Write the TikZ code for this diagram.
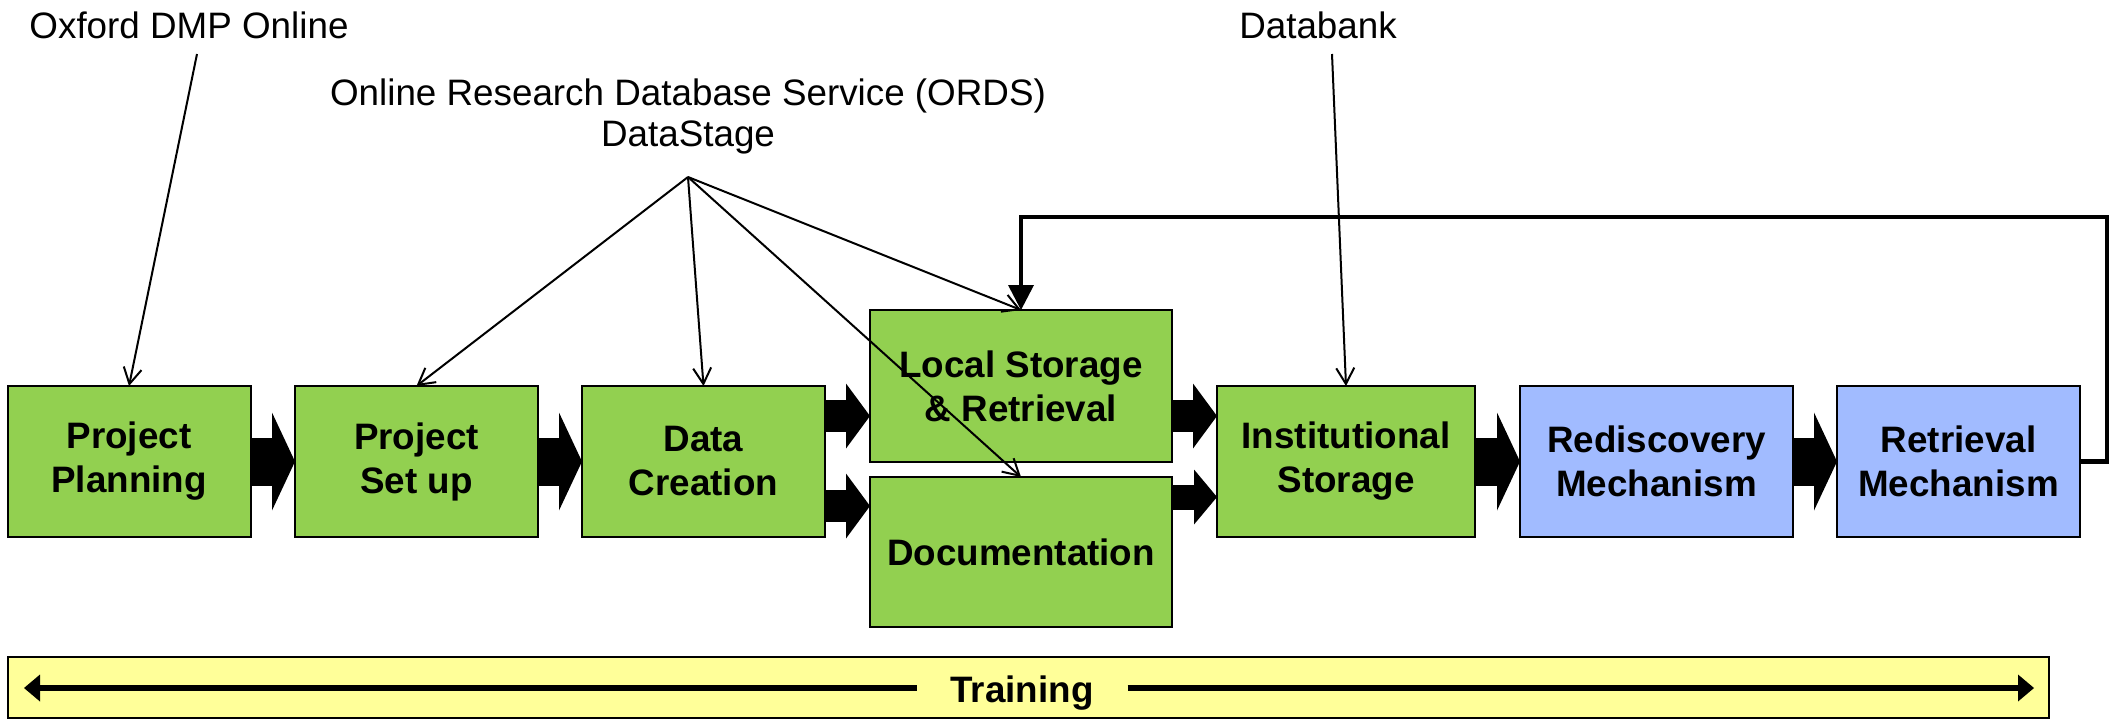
\documentclass[tikz,border=0pt]{standalone}
\usepackage{fontspec}
\setmainfont{Liberation Sans}
\newcommand*{\stagefont}{\bfseries\fontsize{18.4}{22}\selectfont}
\newcommand*{\toolfont}{\fontsize{18.4}{20.5}\selectfont}
\usepackage{tikz}
\definecolor{G}{HTML}{92D050}
\definecolor{B}{HTML}{A1BBFF}
\definecolor{Y}{HTML}{FFFF99}
\usetikzlibrary{arrows.meta}
\tikzstyle{chart}=[x=0.5pt, y=-0.5pt, inner sep=0pt, outer sep=0pt]
\tikzstyle{stage}=[draw=black, line width=1pt, minimum width=121.5pt, minimum height=75.5pt, align=center, font=\stagefont]
\tikzstyle{bigflow}=[line width=24pt, -{Triangle[length=11.5pt, width=49pt, line width=0pt]}]
\tikzstyle{smallflow}=[line width=16pt, -{Triangle[length=12pt, width=32.5pt, line width=0pt]}]
\tikzstyle{thinflow}=[line width=12.5pt, -{Triangle[length=11.5pt, width=27.5pt, line width=0pt]}]
\tikzstyle{loopback}=[line width=2.2pt, -{Triangle[length=12.5pt, width=13pt, line width=0pt]}]
\tikzstyle{tool}=[font=\toolfont, align=center]
\tikzstyle{pointer}=[line width=1pt, -{Straight Barb[length=8pt, width=9pt]}]
\tikzstyle{trainarrow}=[line width=3.3pt, -{Triangle[length=8pt, width=13.5pt, line width=0pt]}]

\begin{document}
\begin{tikzpicture}[chart]
    \path [use as bounding box] (0,0) rectangle (2114,719);
    % stages
    \node [stage, fill=G] (planning) at (129,461.5) {Project\\Planning};
    \node [stage, fill=G] (setup) at (416.5,461.5) {Project\\Set up};
    \node [stage, fill=G] (creation) at (703.5,461.5) {Data\\Creation};
    \node [stage, fill=G, minimum width=151pt, minimum height=76pt] (local) at (1021,386) {Local Storage\\\& Retrieval};
    \node [stage, fill=G, minimum width=151pt, minimum height=75pt] (docs) at (1021,552) {Documentation};
    \node [stage, fill=G, minimum width=129pt] (inst) at (1346,461.5) {Institutional\\Storage};
    \node [stage, fill=B, minimum width=136.5pt] (redisc) at (1656.5,461.5) {Rediscovery\\Mechanism};
    \node [stage, fill=B] (retr) at (1958.5,461.5) {Retrieval\\Mechanism};
    % lanes of the split arrows
    \coordinate (upperlane) at (0,416);
    \coordinate (lowerlane) at (0,506);
    \coordinate (doclane) at (0,497);
    % block arrows
    \draw [bigflow] (planning.east) -- (setup.west);
    \draw [bigflow] (setup.east) -- (creation.west);
    \draw [smallflow] (creation.east |- upperlane) -- (local.west |- upperlane);
    \draw [smallflow] (creation.east |- lowerlane) -- (docs.west |- lowerlane);
    \draw [smallflow] (local.east |- upperlane) -- (inst.west |- upperlane);
    \draw [thinflow] (docs.east |- doclane) -- (inst.west |- doclane);
    \draw [bigflow] (inst.east) -- (redisc.west);
    \draw [bigflow] (redisc.east) -- (retr.west);
    % loop back
    \coordinate (loopcorner) at (2107,217);
    \draw [loopback] (retr.east) -| (loopcorner) -| (local.north);
    % tools
    \node [tool] (dmp) at (189,25) {Oxford DMP Online};
    \node [tool] (ords) at (688,116) {Online Research Database Service (ORDS)\\DataStage};
    \node [tool] (databank) at (1318,25) {Databank};
    \coordinate (dmptail) at (197,54);
    \coordinate (ordshub) at (688,177);
    \coordinate (banktail) at (1332,54);
    \draw [pointer] (dmptail) -- (planning.north);
    \foreach \target in {setup, creation, local, docs}
        \draw [pointer] (ordshub) -- (\target.north);
    \draw [pointer] (banktail) -- (inst.north);
    % training
    \draw [line width=1pt, fill=Y] (8,657) rectangle (2049,718);
    \node [font=\stagefont, minimum width=105.5pt] (training) at (1022,693) {Training};
    \coordinate (trainleft) at (24,688);
    \coordinate (trainright) at (2034,688);
    \draw [trainarrow] (training.west |- trainleft) -- (trainleft);
    \draw [trainarrow] (training.east |- trainright) -- (trainright);
\end{tikzpicture}
\end{document}
